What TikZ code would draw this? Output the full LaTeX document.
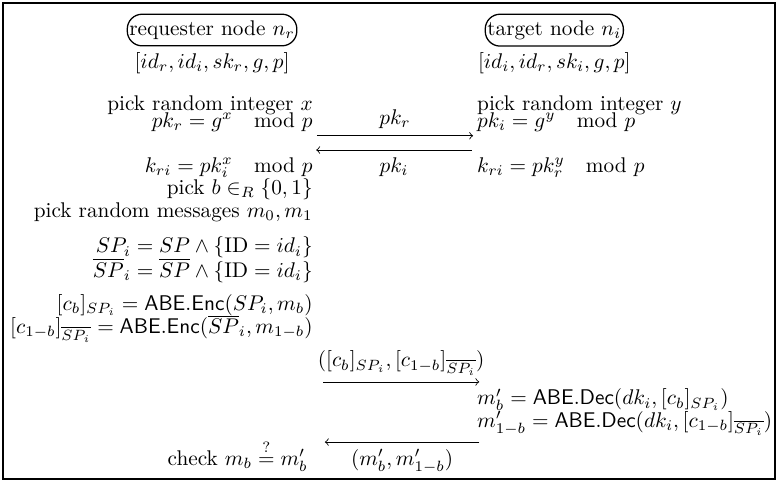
\documentclass[tikz,border=0pt]{standalone}
\usepackage{amsmath}
\usepackage{tikz}
\usetikzlibrary{arrows}
\newcommand{\colL}{5.05}
\newcommand{\colR}{7.69}
\newcommand{\lw}{0.4pt}
\tikzset{
  party/.style={draw, line width=1.5*\lw, rounded corners=7pt, inner xsep=1pt, inner ysep=3pt, anchor=base},
  lcol/.style={anchor=base east, inner sep=0pt},
  rcol/.style={anchor=base west, inner sep=0pt},
  msg/.style={->, line width=\lw}
}

\begin{document}
\begin{tikzpicture}[x=1.025cm, y=1.025cm]
\useasboundingbox (0,0) rectangle (12.548,-7.774);
\draw[line width=2*\lw] (0.05,-0.05) rectangle (12.50,-7.73);
%parties
\node[party] (req) at (3.42, -0.57) {requester node $n_r$};
\node[party] (tgt) at (8.94, -0.57) {target node $n_i$};
\node[anchor=base, inner sep=0pt] (reqkeys) at (3.42, -1.10) {$[id_r, id_i, sk_r, g, p]$};
\node[anchor=base, inner sep=0pt] (tgtkeys) at (8.94, -1.10) {$[id_i, id_r, sk_i, g, p]$};
%key exchange
\node[lcol] (pickx) at (\colL, -1.79) {pick random integer $x$};
\node[lcol] (pkr) at (\colL, -2.05) {$pk_r = g^x \quad \mathrm{mod}\ p$};
\node[rcol] (picky) at (\colR, -1.79) {pick random integer $y$};
\node[rcol] (pki) at (\colR, -2.05) {$pk_i = g^y \quad \mathrm{mod}\ p$};
\node[lcol] (krir) at (\colL, -2.78) {$k_{ri} = pk_i^x \quad \mathrm{mod}\ p$};
\node[rcol] (krii) at (\colR, -2.78) {$k_{ri} = pk_r^y \quad \mathrm{mod}\ p$};
\coordinate (a1) at (5.11, -2.19);
\coordinate (a2) at (7.63, -2.19);
\coordinate (b1) at (7.61, -2.42);
\coordinate (b2) at (5.10, -2.42);
\draw[msg] (a1) -- node[above] {$pk_r$} (a2);
\draw[msg] (b1) -- node[below] {$pk_i$} (b2);
%challenge
\node[lcol] (pickb) at (\colL, -3.13) {pick $b \in_R \{0,1\}$};
\node[lcol] (pickm) at (\colL, -3.50) {pick random messages $m_0, m_1$};
\node[lcol] (pol) at (\colL, -4.08) {$SP_i = SP \wedge \{\mathrm{ID} = id_i\}$};
\node[lcol] (polbar) at (\colL, -4.47) {$\overline{SP}_i = \overline{SP} \wedge \{\mathrm{ID} = id_i\}$};
\node[lcol] (ct) at (\colL, -5.00) {$[c_b]_{SP_i} = \mathsf{ABE.Enc}(SP_i, m_b)$};
\node[lcol] (ctbar) at (\colL, -5.38) {$[c_{1-b}]_{\overline{SP_i}} = \mathsf{ABE.Enc}(\overline{SP}_i, m_{1-b})$};
\coordinate (c1) at (5.21, -6.16);
\coordinate (c2) at (7.73, -6.16);
\draw[msg] (c1) -- node[above=-0.5pt] {$([c_b]_{SP_i}, [c_{1-b}]_{\overline{SP_i}})$} (c2);
%response
\node[rcol] (dec) at (\colR, -6.53) {$m'_b = \mathsf{ABE.Dec}(dk_i, [c_b]_{SP_i})$};
\node[rcol] (decbar) at (\colR, -6.89) {$m'_{1-b} = \mathsf{ABE.Dec}(dk_i, [c_{1-b}]_{\overline{SP_i}})$};
\coordinate (d1) at (7.73, -7.13);
\coordinate (d2) at (5.24, -7.13);
\draw[msg] (d1) -- node[below] {$(m'_b, m'_{1-b})$} (d2);
\node[lcol] (check) at (4.97, -7.50) {check $m_b \stackrel{?}{=} m'_b$};
\end{tikzpicture}
\end{document}
